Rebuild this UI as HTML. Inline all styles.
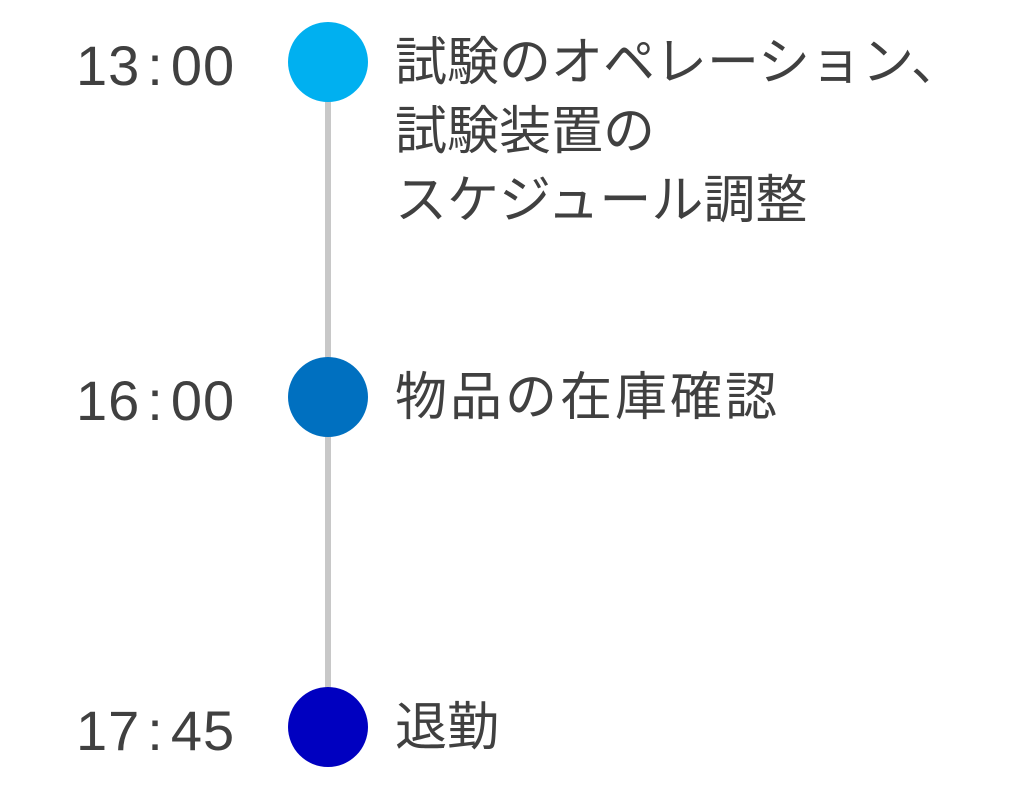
<!DOCTYPE html>
<html><head><meta charset="utf-8"><style>
body{margin:0;width:1024px;height:806px;background:#fff;position:relative;overflow:hidden}
.t{position:absolute;left:76px;font-family:"Liberation Sans",sans-serif;font-size:56px;color:#404040;line-height:1;letter-spacing:1px}
.c{position:absolute;left:288px;width:80px;height:80px;border-radius:50%}
.j{position:absolute;left:395px;font-family:"Liberation Sans","Noto Sans CJK JP",sans-serif;font-size:52px;color:#404040;line-height:69px;white-space:nowrap}
</style></head><body>
<div style="position:absolute;left:325px;top:62px;width:6px;height:665px;background:#c8c8c8"></div>
<div class="c" style="top:22px;background:#00b0f0"></div>
<div class="c" style="top:357px;background:#0070c0"></div>
<div class="c" style="top:687px;background:#0000c0"></div>
<div class="t" style="top:38px">13<span style="margin:0 7px">:</span>00</div>
<div class="t" style="top:373px">16<span style="margin:0 7px">:</span>00</div>
<div class="t" style="top:703px">17<span style="margin:0 7px">:</span>45</div>
<div class="j" style="top:29px">試験のオペレーション、<br>試験装置の<br>スケジュール調整</div>
<div class="j" style="top:364px;letter-spacing:3px">物品の在庫確認</div>
<div class="j" style="top:694px">退勤</div>
</body></html>
